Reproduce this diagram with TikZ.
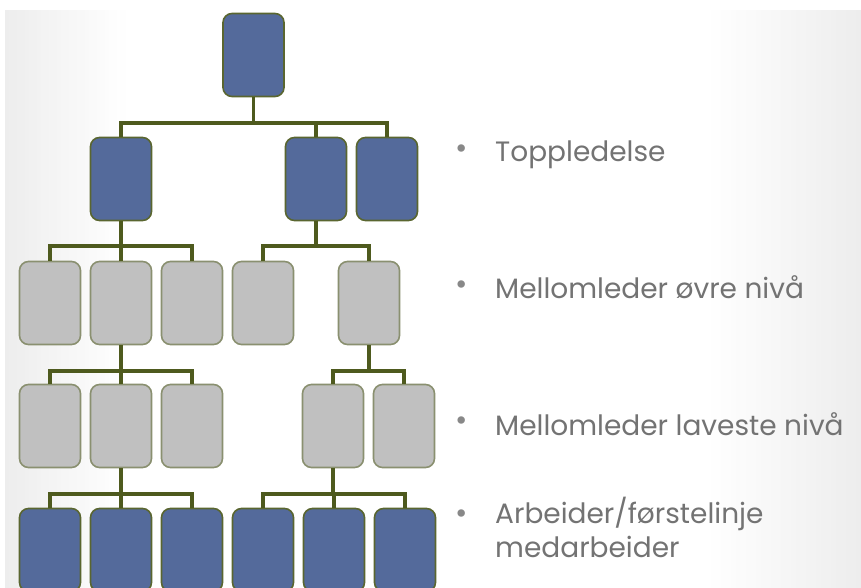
\documentclass[tikz,border=0pt]{standalone}
\usepackage{fontspec}
\setmainfont{Poppins}
\begin{document}
\begin{tikzpicture}[x=1pt,y=-1pt,
  bluebox/.style={draw=boxedge,fill=boxblue,line width=1.6pt,rounded corners=9pt,minimum width=61pt,minimum height=83pt,inner sep=0pt},
  graybox/.style={draw=grayedge,fill=boxgray,line width=1.6pt,rounded corners=9pt,minimum width=61pt,minimum height=83pt,inner sep=0pt},
  conn/.style={draw=connc,line width=3.4pt},
  lbl/.style={anchor=base west,text=txtc,font=\fontsize{28}{34}\selectfont,inner sep=0pt,align=left},
  bul/.style={anchor=center,text=bulc,font=\fontsize{30}{30}\selectfont,inner sep=0pt}]
\definecolor{boxblue}{HTML}{546A9B}
\definecolor{boxedge}{HTML}{5A6630}
\definecolor{boxgray}{HTML}{C0C0C0}
\definecolor{grayedge}{HTML}{8A9070}
\definecolor{connc}{HTML}{4E5A1E}
\definecolor{txtc}{HTML}{737373}
\definecolor{bulc}{HTML}{888888}
\clip (0,0) rectangle (861,588);
\useasboundingbox (0,0) rectangle (861,588);
\fill[white] (0,0) rectangle (861,588);
% slide background: light gray at the left and right edges
\foreach \i in {0,...,29} {
  \pgfmathsetmacro{\lv}{7*(1-\i/30)}
  \fill[black!\lv] (5+4*\i,10) rectangle (5+4*\i+4.5,588);
  \fill[black!\lv] (861-5*\i,10) rectangle (861-5*\i-5.5,588);
}
% buses
\coordinate (b1) at (0,123);
\coordinate (b2) at (0,246);
\coordinate (b3) at (0,371);
\coordinate (b4) at (0,494);
% level 0
\node[bluebox] (t) at (253.5,55) {};
% level 1
\node[bluebox] (a1) at (121,179) {};
\node[bluebox] (a2) at (316,179) {};
\node[bluebox] (a3) at (387,179) {};
% level 2
\node[graybox] (m1) at (50,303) {};
\node[graybox] (m2) at (121,303) {};
\node[graybox] (m3) at (192,303) {};
\node[graybox] (m4) at (263,303) {};
\node[graybox] (m5) at (369,303) {};
% level 3
\node[graybox] (n1) at (50,426) {};
\node[graybox] (n2) at (121,426) {};
\node[graybox] (n3) at (192,426) {};
\node[graybox] (n4) at (333,426) {};
\node[graybox] (n5) at (404,426) {};
% level 4
\node[bluebox] (w1) at (50,550) {};
\node[bluebox] (w2) at (121,550) {};
\node[bluebox] (w3) at (192,550) {};
\node[bluebox] (w4) at (263,550) {};
\node[bluebox] (w5) at (334,550) {};
\node[bluebox] (w6) at (405,550) {};
% connectors
\draw[conn] (t.south) -- (t.south|-b1);
\draw[conn] (a1.north) |- (t.south|-b1) -| (a3.north);
\draw[conn] (a2.north) -- (a2.north|-b1);
\draw[conn] (a1.south) -- (a1.south|-b2);
\draw[conn] (m1.north) |- (a1.south|-b2) -| (m3.north);
\draw[conn] (m2.north) -- (m2.north|-b2);
\draw[conn] (a2.south) -- (a2.south|-b2);
\draw[conn] (m4.north) |- (a2.south|-b2) -| (m5.north);
\draw[conn] (m2.south) -- (m2.south|-b3);
\draw[conn] (n1.north) |- (m2.south|-b3) -| (n3.north);
\draw[conn] (n2.north) -- (n2.north|-b3);
\draw[conn] (m5.south) -- (m5.south|-b3);
\draw[conn] (n4.north) |- (m5.south|-b3) -| (n5.north);
\draw[conn] (n2.south) -- (n2.south|-b4);
\draw[conn] (w1.north) |- (n2.south|-b4) -| (w3.north);
\draw[conn] (w2.north) -- (w2.north|-b4);
\draw[conn] (n4.south) -- (n4.south|-b4);
\draw[conn] (w4.north) |- (n4.south|-b4) -| (w6.north);
\draw[conn] (w5.north) -- (w5.north|-b4);
% labels
\node[bul] (d1) at (462,152) {•};
\node[lbl] (l1) at (495,162) {Toppledelse};
\node[bul] (d2) at (462,288) {•};
\node[lbl] (l2) at (495,298) {Mellomleder øvre nivå};
\node[bul] (d3) at (462,424) {•};
\node[lbl] (l3) at (495,435) {Mellomleder laveste nivå};
\node[bul] (d4) at (462,517) {•};
\node[lbl] (l4) at (495,523) {Arbeider/førstelinje};
\node[lbl] (l5) at (495,557) {medarbeider};
\end{tikzpicture}
\end{document}
